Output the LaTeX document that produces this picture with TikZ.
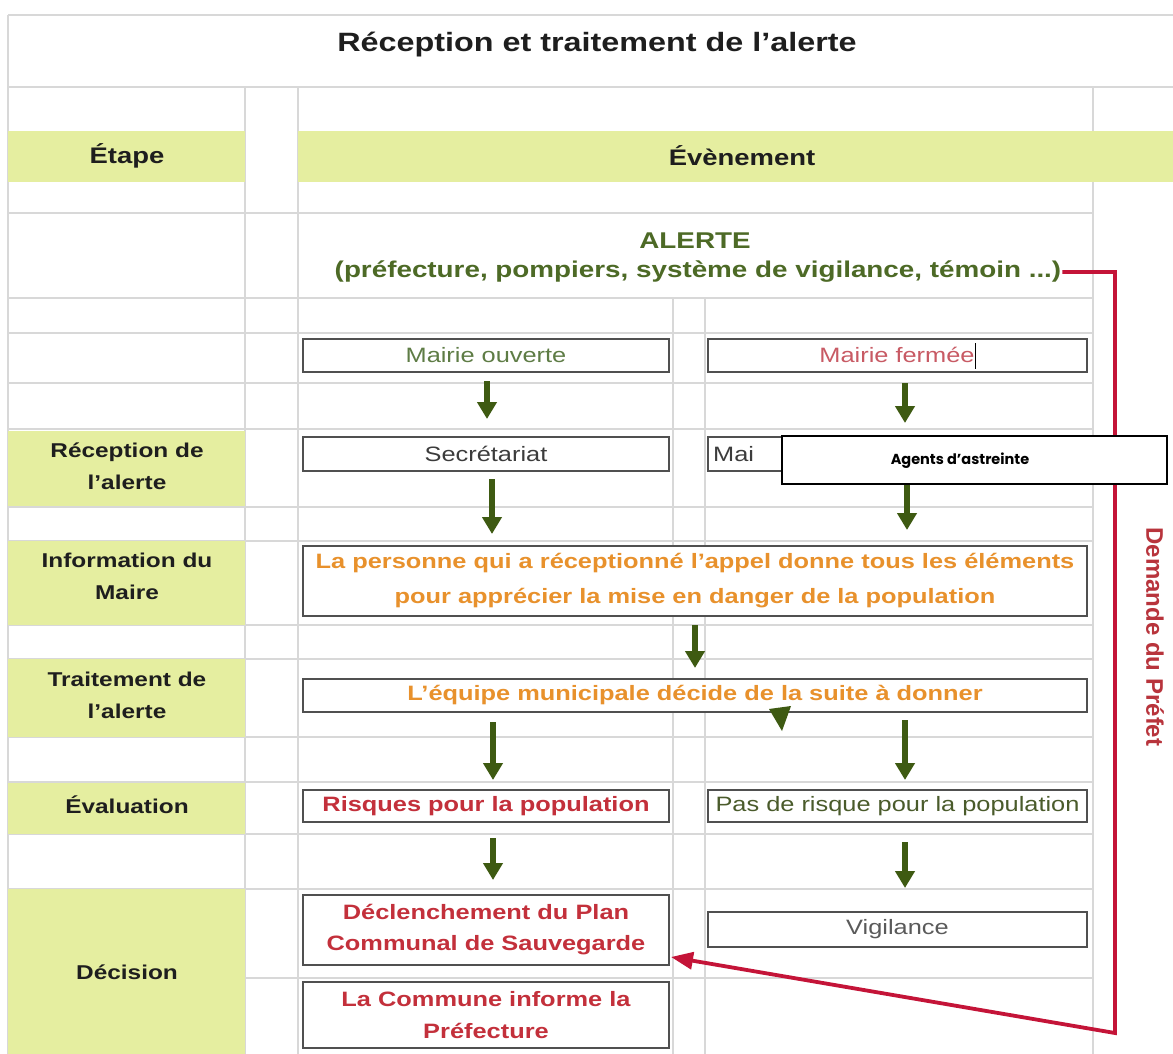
\documentclass[tikz,border=0pt]{standalone}
\usepackage{fontspec}
\setmainfont{Liberation Sans}[FakeStretch=1.22]
\newfontfamily\plainsans{Liberation Sans}
\newfontfamily\gothic{Poppins}
\usetikzlibrary{arrows.meta,calc}
\definecolor{band}{HTML}{E5EEA0}
\definecolor{gridc}{HTML}{D8D8D8}
\definecolor{titc}{HTML}{1E1E1E}
\definecolor{altc}{HTML}{4D6A26}
\definecolor{oliveT}{HTML}{5E7C45}
\definecolor{fermc}{HTML}{C85A64}
\definecolor{secc}{HTML}{3C3C3C}
\definecolor{orangeT}{HTML}{E8912C}
\definecolor{redT}{HTML}{C3303B}
\definecolor{pasc}{HTML}{4A5B2B}
\definecolor{vigc}{HTML}{5A5A5A}
\definecolor{arrowg}{HTML}{3E5A12}
\definecolor{redL}{HTML}{C41438}
\definecolor{redD}{HTML}{B8343C}
\definecolor{boxc}{HTML}{505050}
\begin{document}
\begin{tikzpicture}[x=1pt,y=-1pt,
  gridl/.style={draw=gridc, line width=1.3pt},
  box/.style={draw=boxc, line width=1.6pt, fill=white, inner sep=0pt, outer sep=0pt, align=center},
  regf/.style={font=\fontsize{20.8}{32}\selectfont},
  boldf/.style={font=\bfseries\fontsize{20.8}{32}\selectfont},
  lbl/.style={font=\bfseries\fontsize{20}{32}\selectfont, text=titc, align=center},
  hdr/.style={font=\bfseries\fontsize{22.5}{26}\selectfont, text=titc},
  alt/.style={font=\bfseries\fontsize{22.8}{26}\selectfont, text=altc, inner sep=1pt},
  garrow/.style={draw=arrowg, line width=6.5pt, -{Triangle[width=19pt,length=17pt]}},
  redarrow/.style={draw=redL, line width=3.8pt, line join=miter, -{Triangle[width=17pt,length=22pt]}}
]
\useasboundingbox (0,0) rectangle (1173,1054);
\fill[white] (0,0) rectangle (1173,1054);
% grid
\draw[gridl] (8,15) -- (1173,15);
\draw[gridl] (8,87) -- (1173,87);
\draw[gridl] (8,15) -- (8,1054);
\foreach \yy in {213,298,333,383,429,507,541,625,659,737,782,834,889,978}
  \draw[gridl] (8,\yy) -- (1093,\yy);
\foreach \xx in {245,298,1093}
  \draw[gridl] (\xx,87) -- (\xx,1054);
\foreach \xx in {673,705}
  \draw[gridl] (\xx,298) -- (\xx,1054);
% bands
\fill[band] (8,131) rectangle (245,182);
\fill[band] (298,131) rectangle (1173,182);
\fill[band] (8,431) rectangle (245,506);
\fill[band] (8,541) rectangle (245,625);
\fill[band] (8,659) rectangle (245,737);
\fill[band] (8,783) rectangle (245,834);
\fill[band] (8,889) rectangle (245,1054);
% title and headers
\node[font=\bfseries\fontsize{26.5}{30}\selectfont, text=titc] (title) at (597,45) {Réception et traitement de l’alerte};
\node[hdr] (etape) at (127,156) {Étape};
\node[hdr] (evt) at (742,156) {Évènement};
% left labels
\node[lbl] (lrec) at (127,466) {Réception de\\l’alerte};
\node[lbl] (linf) at (127,576) {Information du\\Maire};
\node[lbl] (ltra) at (127,695) {Traitement de\\l’alerte};
\node[lbl] (leva) at (127,805) {Évaluation};
\node[lbl] (ldec) at (127,972) {Décision};
% alerte
\node[alt] (alA) at (695,241) {ALERTE};
\node[alt] (alB) at (698,272) {(préfecture, pompiers, système de vigilance, témoin ...)};
% boxes
\node[box, regf, text=oliveT, minimum width=366pt, minimum height=33pt] (mo) at (486,355.5) {Mairie ouverte};
\node[box, regf, text=fermc, minimum width=379pt, minimum height=33pt] (mf) at (897.5,355.5) {Mairie fermée\textcolor{black}{\rule[-6pt]{1pt}{26pt}}};
\node[box, regf, text=secc, minimum width=366pt, minimum height=34pt] (sec) at (486,454) {Secrétariat};
\node[box, minimum width=379pt, minimum height=34pt] (mai) at (897.5,454) {};
\node[regf, text=secc, anchor=west, inner sep=0pt] (maitxt) at (713,454) {Mai};
\node[box, boldf, text=orangeT, minimum width=784pt, minimum height=70pt, font=\bfseries\fontsize{20.8}{35}\selectfont] (info) at (695,581) {La personne qui a réceptionné l'appel donne tous les éléments\\pour apprécier la mise en danger de la population};
\node[box, boldf, text=orangeT, minimum width=784pt, minimum height=33pt] (trait) at (695,695.5) {L’équipe municipale décide de la suite à donner};
\node[box, boldf, text=redT, minimum width=366pt, minimum height=32pt] (risq) at (486,806) {Risques pour la population};
\node[box, regf, text=pasc, minimum width=379pt, minimum height=32pt] (pasr) at (897.5,806) {Pas de risque pour la population};
\node[box, text=redT, minimum width=366pt, minimum height=70pt, font=\bfseries\fontsize{20.8}{31}\selectfont] (decl) at (486,930) {Déclenchement du Plan\\Communal de Sauvegarde};
\node[box, regf, text=vigc, minimum width=379pt, minimum height=35pt] (vig) at (897.5,929.5) {Vigilance};
\node[box, text=redT, minimum width=366pt, minimum height=66pt, font=\bfseries\fontsize{20.8}{32}\selectfont] (comm) at (486,1015) {La Commune informe la\\Préfecture};
% green arrows
\draw[garrow] ($(mo.south)+(1,9)$) -- ($(sec.north)+(1,-18)$);
\draw[garrow] ($(mf.south)+(7.5,11)$) -- ($(mai.north)+(7.5,-14)$);
\draw[garrow] ($(sec.south)+(6,8)$) -- ($(sec.south |- info.north)+(6,-12)$);
\draw[garrow] ($(mai.south)+(9.5,13)$) -- ($(mai.south |- info.north)+(9.5,-16)$);
\draw[garrow] ($(info.south)+(0,9)$) -- ($(trait.north)+(0,-11)$);
\draw[garrow] ($(risq.north |- trait.south)+(7,10)$) -- ($(risq.north)+(7,-10)$);
\draw[garrow] ($(pasr.north |- trait.south)+(7.5,8)$) -- ($(pasr.north)+(7.5,-10)$);
\draw[garrow] ($(risq.south)+(7,16)$) -- ($(decl.north)+(7,-15)$);
\draw[garrow] ($(pasr.south)+(7.5,20)$) -- ($(vig.north)+(7.5,-24)$);
\fill[arrowg] (769,709) -- (791,706) -- (782,731) -- cycle;
% red connector
\coordinate (rx) at (1115,1033);
\draw[redarrow] (alB.east) -- (alB.east -| rx) -- (rx) -- ($(decl.south east)+(2,-8)$);
\node[rotate=-90, font=\plainsans\bfseries\fontsize{24}{28}\selectfont, text=redD] (dem) at (1155,637) {Demande du Préfet};
% agents box on top
\node[draw=black, line width=1.8pt, fill=white, minimum width=385pt, minimum height=48pt, inner sep=0pt] (agents) at (974.5,460) {};
\node[font=\gothic\bfseries\fontsize{14.5}{16}\selectfont, text=black] (agtxt) at (960,461) {Agents d’astreinte};
\end{tikzpicture}
\end{document}
